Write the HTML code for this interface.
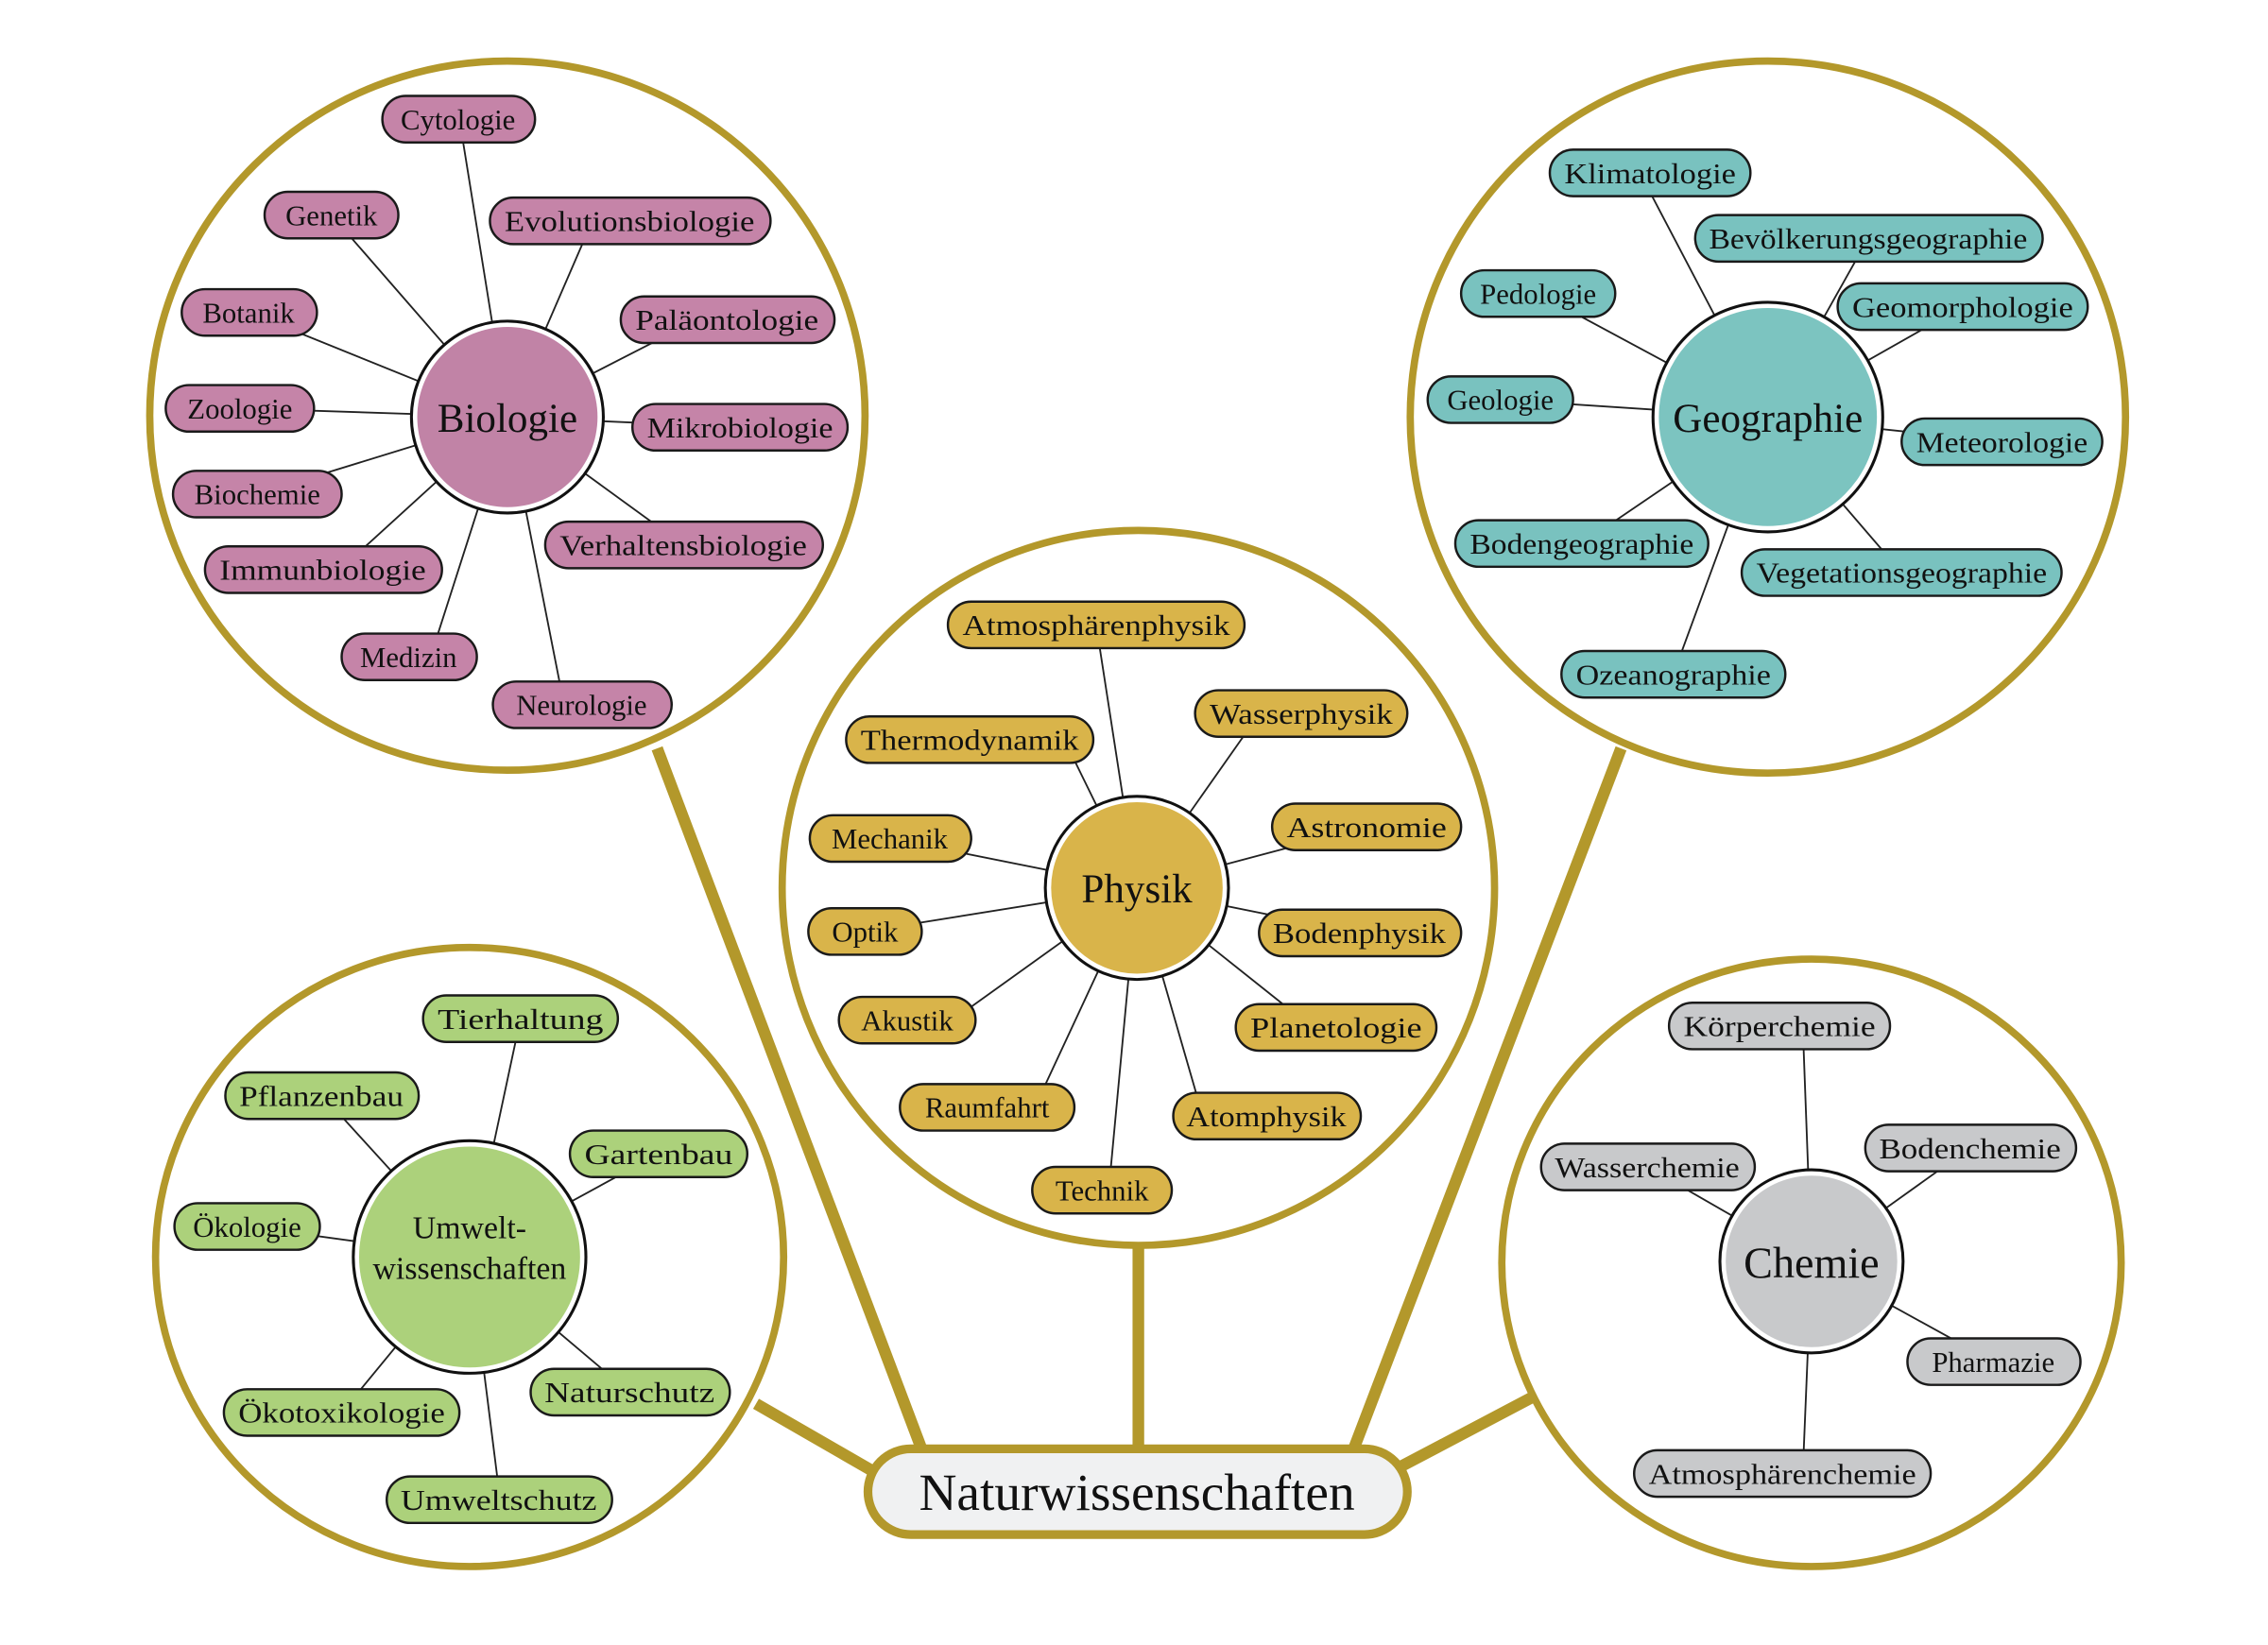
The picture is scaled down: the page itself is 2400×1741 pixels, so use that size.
<!DOCTYPE html>
<html><head><meta charset="utf-8"><style>
html,body{margin:0;padding:0;background:#fff}
svg{display:block}
text{font-family:"Liberation Serif",serif;fill:#111}
.p text{font-size:20px;text-anchor:middle}
.p rect{stroke:#1a1a1a;stroke-width:1.6}
.l{stroke:#222;stroke-width:1.2}
.g{fill:none;stroke:#b3982b;stroke-width:5}
.k{stroke:#b3982b;stroke-width:8}
</style></head><body>
<svg width="2400" height="1741" viewBox="0 0 1560 1132" preserveAspectRatio="none" xmlns="http://www.w3.org/2000/svg">
<rect width="1560" height="1132" fill="#fff"/>
<!-- thick connectors -->
<line class="k" x1="635" y1="1000" x2="452" y2="515"/>
<line class="k" x1="783" y1="1000" x2="783" y2="858"/>
<line class="k" x1="930" y1="1000" x2="1115" y2="515"/>
<line class="k" x1="605" y1="1015" x2="520" y2="966"/>
<line class="k" x1="962" y1="1010" x2="1053" y2="962"/>
<!-- big circles -->
<ellipse class="g" cx="349" cy="286" rx="246" ry="244"/>
<ellipse class="g" cx="783" cy="611" rx="245" ry="246"/>
<ellipse class="g" cx="1216" cy="287" rx="246" ry="245"/>
<ellipse class="g" cx="323" cy="865" rx="216" ry="213"/>
<ellipse class="g" cx="1246" cy="869" rx="213" ry="209"/>
<!-- central -->
<rect x="597" y="997" width="371" height="59" rx="29.5" fill="#f0f1f2" stroke="#b3982b" stroke-width="6"/>
<text x="782" y="1039" font-size="36" text-anchor="middle">Naturwissenschaften</text>

<!-- Biology lines -->
<g class="l">
<line x1="316" y1="82" x2="349" y2="287"/><line x1="228" y1="148" x2="349" y2="287"/><line x1="404" y1="160" x2="349" y2="287"/>
<line x1="171" y1="215" x2="349" y2="287"/><line x1="470" y1="225" x2="349" y2="287"/><line x1="165" y1="281" x2="349" y2="287"/>
<line x1="509" y1="294" x2="349" y2="287"/><line x1="177" y1="340" x2="349" y2="287"/><line x1="470" y1="375" x2="349" y2="287"/>
<line x1="247" y1="380" x2="349" y2="287"/><line x1="300" y1="440" x2="349" y2="287"/><line x1="386" y1="475" x2="349" y2="287"/>
</g>
<circle cx="349" cy="287" r="66" fill="#fff" stroke="#111" stroke-width="2"/>
<circle cx="349" cy="287" r="62" fill="#c183a6"/>
<text x="349" y="297" font-size="28" text-anchor="middle">Biologie</text>
<g class="p">
<rect x="263" y="66" width="105" height="32" rx="16" fill="#c584a8"/><text x="315" y="89">Cytologie</text>
<rect x="182" y="132" width="92" height="32" rx="16" fill="#c584a8"/><text x="228" y="155">Genetik</text>
<rect x="337" y="136" width="193" height="32" rx="16" fill="#c584a8"/><text x="433" y="159" textLength="172" lengthAdjust="spacingAndGlyphs">Evolutionsbiologie</text>
<rect x="125" y="199" width="93" height="32" rx="16" fill="#c584a8"/><text x="171" y="222">Botanik</text>
<rect x="427" y="204" width="147" height="32" rx="16" fill="#c584a8"/><text x="500" y="227" textLength="126" lengthAdjust="spacingAndGlyphs">Paläontologie</text>
<rect x="114" y="265" width="102" height="32" rx="16" fill="#c584a8"/><text x="165" y="288">Zoologie</text>
<rect x="435" y="278" width="148" height="32" rx="16" fill="#c584a8"/><text x="509" y="301" textLength="128" lengthAdjust="spacingAndGlyphs">Mikrobiologie</text>
<rect x="119" y="324" width="116" height="32" rx="16" fill="#c584a8"/><text x="177" y="347">Biochemie</text>
<rect x="375" y="359" width="191" height="32" rx="16" fill="#c584a8"/><text x="470" y="382" textLength="170" lengthAdjust="spacingAndGlyphs">Verhaltensbiologie</text>
<rect x="141" y="376" width="163" height="32" rx="16" fill="#c584a8"/><text x="222" y="399" textLength="142" lengthAdjust="spacingAndGlyphs">Immunbiologie</text>
<rect x="235" y="436" width="93" height="32" rx="16" fill="#c584a8"/><text x="281" y="459">Medizin</text>
<rect x="339" y="469" width="123" height="32" rx="16" fill="#c584a8"/><text x="400" y="492">Neurologie</text>
</g>

<!-- Physics -->
<g class="l">
<line x1="754" y1="430" x2="782" y2="611"/><line x1="860" y1="500" x2="782" y2="611"/><line x1="735" y1="515" x2="782" y2="611"/>
<line x1="940" y1="569" x2="782" y2="611"/><line x1="612" y1="577" x2="782" y2="611"/><line x1="935" y1="642" x2="782" y2="611"/>
<line x1="595" y1="641" x2="782" y2="611"/><line x1="900" y1="705" x2="782" y2="611"/><line x1="665" y1="695" x2="782" y2="611"/>
<line x1="715" y1="755" x2="782" y2="611"/><line x1="825" y1="760" x2="782" y2="611"/><line x1="763" y1="815" x2="782" y2="611"/>
</g>
<circle cx="782" cy="611" r="63" fill="#fff" stroke="#111" stroke-width="2"/>
<circle cx="782" cy="611" r="59" fill="#d9b44a"/>
<text x="782" y="621" font-size="28" text-anchor="middle">Physik</text>
<g class="p">
<rect x="652" y="414" width="204" height="32" rx="16" fill="#d9b44a"/><text x="754" y="437" textLength="184" lengthAdjust="spacingAndGlyphs">Atmosphärenphysik</text>
<rect x="822" y="475" width="146" height="32" rx="16" fill="#d9b44a"/><text x="895" y="498" textLength="126" lengthAdjust="spacingAndGlyphs">Wasserphysik</text>
<rect x="582" y="493" width="170" height="32" rx="16" fill="#d9b44a"/><text x="667" y="516" textLength="150" lengthAdjust="spacingAndGlyphs">Thermodynamik</text>
<rect x="875" y="553" width="130" height="32" rx="16" fill="#d9b44a"/><text x="940" y="576" textLength="110" lengthAdjust="spacingAndGlyphs">Astronomie</text>
<rect x="557" y="561" width="111" height="32" rx="16" fill="#d9b44a"/><text x="612" y="584">Mechanik</text>
<rect x="866" y="626" width="139" height="32" rx="16" fill="#d9b44a"/><text x="935" y="649" textLength="119" lengthAdjust="spacingAndGlyphs">Bodenphysik</text>
<rect x="556" y="625" width="78" height="32" rx="16" fill="#d9b44a"/><text x="595" y="648">Optik</text>
<rect x="850" y="691" width="138" height="32" rx="16" fill="#d9b44a"/><text x="919" y="714" textLength="118" lengthAdjust="spacingAndGlyphs">Planetologie</text>
<rect x="577" y="686" width="94" height="32" rx="16" fill="#d9b44a"/><text x="624" y="709">Akustik</text>
<rect x="619" y="746" width="120" height="32" rx="16" fill="#d9b44a"/><text x="679" y="769">Raumfahrt</text>
<rect x="807" y="752" width="129" height="32" rx="16" fill="#d9b44a"/><text x="871" y="775" textLength="110" lengthAdjust="spacingAndGlyphs">Atomphysik</text>
<rect x="710" y="803" width="96" height="32" rx="16" fill="#d9b44a"/><text x="758" y="826">Technik</text>
</g>

<!-- Geography -->
<g class="l">
<line x1="1128" y1="119" x2="1216" y2="287"/><line x1="1285" y1="164" x2="1216" y2="287"/><line x1="1058" y1="202" x2="1216" y2="287"/>
<line x1="1350" y1="211" x2="1216" y2="287"/><line x1="1032" y1="275" x2="1216" y2="287"/><line x1="1377" y1="304" x2="1216" y2="287"/>
<line x1="1088" y1="374" x2="1216" y2="287"/><line x1="1308" y1="394" x2="1216" y2="287"/><line x1="1151" y1="464" x2="1216" y2="287"/>
</g>
<circle cx="1216" cy="287" r="79" fill="#fff" stroke="#111" stroke-width="2"/>
<circle cx="1216" cy="287" r="75" fill="#7cc4c0"/>
<text x="1216" y="297" font-size="28" text-anchor="middle">Geographie</text>
<g class="p">
<rect x="1066" y="103" width="138" height="32" rx="16" fill="#79c2bf"/><text x="1135" y="126" textLength="118" lengthAdjust="spacingAndGlyphs">Klimatologie</text>
<rect x="1166" y="148" width="239" height="32" rx="16" fill="#79c2bf"/><text x="1285" y="171" textLength="219" lengthAdjust="spacingAndGlyphs">Bevölkerungsgeographie</text>
<rect x="1005" y="186" width="106" height="32" rx="16" fill="#79c2bf"/><text x="1058" y="209">Pedologie</text>
<rect x="1264" y="195" width="172" height="32" rx="16" fill="#79c2bf"/><text x="1350" y="218" textLength="152" lengthAdjust="spacingAndGlyphs">Geomorphologie</text>
<rect x="982" y="259" width="100" height="32" rx="16" fill="#79c2bf"/><text x="1032" y="282">Geologie</text>
<rect x="1308" y="288" width="138" height="32" rx="16" fill="#79c2bf"/><text x="1377" y="311" textLength="118" lengthAdjust="spacingAndGlyphs">Meteorologie</text>
<rect x="1001" y="358" width="174" height="32" rx="16" fill="#79c2bf"/><text x="1088" y="381" textLength="154" lengthAdjust="spacingAndGlyphs">Bodengeographie</text>
<rect x="1198" y="378" width="220" height="32" rx="16" fill="#79c2bf"/><text x="1308" y="401" textLength="200" lengthAdjust="spacingAndGlyphs">Vegetationsgeographie</text>
<rect x="1074" y="448" width="154" height="32" rx="16" fill="#79c2bf"/><text x="1151" y="471" textLength="134" lengthAdjust="spacingAndGlyphs">Ozeanographie</text>
</g>

<!-- Umwelt -->
<g class="l">
<line x1="358" y1="701" x2="323" y2="865"/><line x1="222" y1="754" x2="323" y2="865"/><line x1="453" y1="794" x2="323" y2="865"/>
<line x1="170" y1="844" x2="323" y2="865"/><line x1="433" y1="958" x2="323" y2="865"/><line x1="235" y1="972" x2="323" y2="865"/>
<line x1="344" y1="1032" x2="323" y2="865"/>
</g>
<circle cx="323" cy="865" r="80" fill="#fff" stroke="#111" stroke-width="2"/>
<circle cx="323" cy="865" r="76" fill="#acd17b"/>
<text x="323" y="852" font-size="22" text-anchor="middle">Umwelt-</text>
<text x="323" y="880" font-size="22" text-anchor="middle">wissenschaften</text>
<g class="p">
<rect x="291" y="685" width="134" height="32" rx="16" fill="#acd17b"/><text x="358" y="708" textLength="114" lengthAdjust="spacingAndGlyphs">Tierhaltung</text>
<rect x="155" y="738" width="133" height="32" rx="16" fill="#acd17b"/><text x="221" y="761" textLength="113" lengthAdjust="spacingAndGlyphs">Pflanzenbau</text>
<rect x="392" y="778" width="122" height="32" rx="16" fill="#acd17b"/><text x="453" y="801" textLength="102" lengthAdjust="spacingAndGlyphs">Gartenbau</text>
<rect x="120" y="828" width="100" height="32" rx="16" fill="#acd17b"/><text x="170" y="851">Ökologie</text>
<rect x="365" y="942" width="137" height="32" rx="16" fill="#acd17b"/><text x="433" y="965" textLength="117" lengthAdjust="spacingAndGlyphs">Naturschutz</text>
<rect x="154" y="956" width="162" height="32" rx="16" fill="#acd17b"/><text x="235" y="979" textLength="142" lengthAdjust="spacingAndGlyphs">Ökotoxikologie</text>
<rect x="266" y="1016" width="155" height="32" rx="16" fill="#acd17b"/><text x="343" y="1039" textLength="135" lengthAdjust="spacingAndGlyphs">Umweltschutz</text>
</g>

<!-- Chemie -->
<g class="l">
<line x1="1240" y1="706" x2="1246" y2="868"/><line x1="1355" y1="790" x2="1246" y2="868"/><line x1="1133" y1="803" x2="1246" y2="868"/>
<line x1="1371" y1="937" x2="1246" y2="868"/><line x1="1240" y1="1014" x2="1246" y2="868"/>
</g>
<circle cx="1246" cy="868" r="63" fill="#fff" stroke="#111" stroke-width="2"/>
<circle cx="1246" cy="868" r="59" fill="#c8c9cb"/>
<text x="1246" y="879" font-size="30" text-anchor="middle">Chemie</text>
<g class="p">
<rect x="1148" y="690" width="152" height="32" rx="16" fill="#c8c9cb"/><text x="1224" y="713" textLength="132" lengthAdjust="spacingAndGlyphs">Körperchemie</text>
<rect x="1283" y="774" width="145" height="32" rx="16" fill="#c8c9cb"/><text x="1355" y="797" textLength="125" lengthAdjust="spacingAndGlyphs">Bodenchemie</text>
<rect x="1060" y="787" width="147" height="32" rx="16" fill="#c8c9cb"/><text x="1133" y="810" textLength="127" lengthAdjust="spacingAndGlyphs">Wasserchemie</text>
<rect x="1312" y="921" width="119" height="32" rx="16" fill="#c8c9cb"/><text x="1371" y="944">Pharmazie</text>
<rect x="1124" y="998" width="204" height="32" rx="16" fill="#c8c9cb"/><text x="1226" y="1021" textLength="184" lengthAdjust="spacingAndGlyphs">Atmosphärenchemie</text>
</g>
</svg>
</body></html>
